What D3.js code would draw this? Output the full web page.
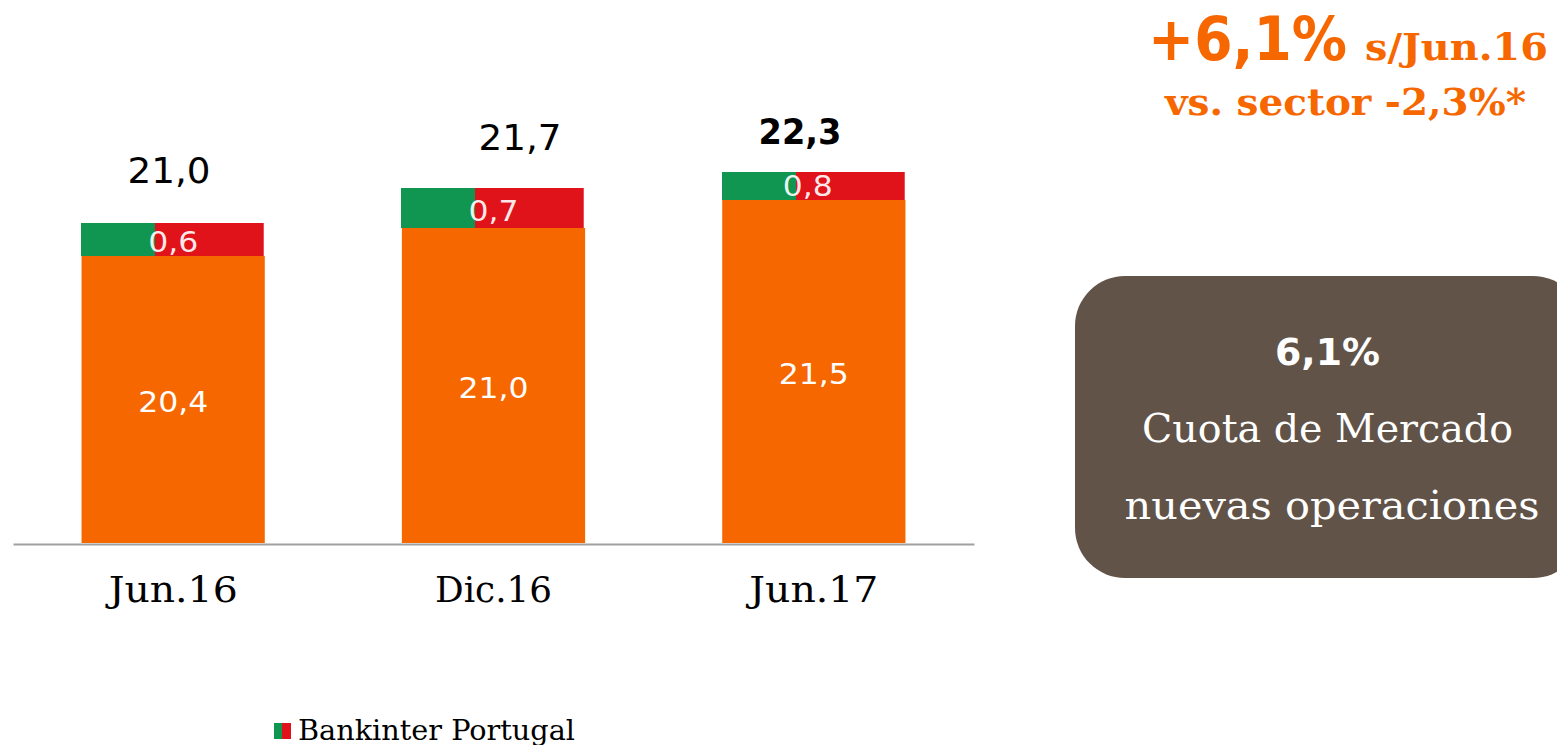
<!DOCTYPE html>
<html><head><meta charset="utf-8">
<script src="https://cdnjs.cloudflare.com/ajax/libs/d3/7.8.5/d3.min.js"></script>
<style>html,body{margin:0;padding:0;background:#fff;overflow:hidden}svg{display:block}</style>
</head><body><div id="c"></div>
<script>
const categories = ["Jun.16","Dic.16","Jun.17"];
// values as labelled in the chart
const spainLabels = ["20,4","21,0","21,5"];
const portugalLabels = ["0,6","0,7","0,8"];
const totalLabels = ["21,0","21,7","22,3"];
const totalWeights = ["normal","normal","bold"];
// heights as drawn in the picture (the source bars are not strictly to scale)
const spainDrawn = [20.40, 20.96, 21.52];
const portugalDrawn = [0.66, 0.80, 0.56];
const barColor = "#f76700", green = "#109651", red = "#e0131b", boxColor = "#615348";
const legendLabel = "Bankinter Portugal";

const SANS = "'DejaVu Sans',sans-serif", SERIF = "'DejaVu Serif',serif";
const svg = d3.select("#c").append("svg").attr("width",1557).attr("height",745);
const x = d3.scaleBand().domain(categories).range([13,974]).paddingInner(0.428).paddingOuter(0.214);
const y = d3.scaleLinear().domain([14.66,22.3]).range([543,161]);
const fit = (sel,w)=>sel.attr("textLength",w).attr("lengthAdjust","spacingAndGlyphs");

const rows = categories.map((c,i)=>({c,i,s:spainDrawn[i],p:portugalDrawn[i]}));
const g = svg.append("g");
const segX = d=>Math.floor(x(d.c));
g.selectAll("rect.g").data(rows).join("rect").attr("x",segX).attr("width",74)
 .attr("y",d=>y(d.s+d.p)).attr("height",d=>y(d.s)-y(d.s+d.p)).attr("fill",green);
g.selectAll("rect.r").data(rows).join("rect").attr("x",d=>segX(d)+74).attr("width",x.bandwidth()-74.5)
 .attr("y",d=>y(d.s+d.p)).attr("height",d=>y(d.s)-y(d.s+d.p)).attr("fill",red);
g.selectAll("rect.o").data(rows).join("rect").attr("x",d=>x(d.c)).attr("width",x.bandwidth())
 .attr("y",d=>y(d.s)).attr("height",d=>y.range()[0]-y(d.s)).attr("fill",barColor);

// axis
const ax = svg.append("g").attr("transform","translate(0,544)").call(d3.axisBottom(x).tickSize(0).tickPadding(29));
ax.select(".domain").attr("stroke","#a0a0a0").attr("stroke-width",2);
ax.selectAll("text").attr("font-family",SERIF).attr("font-size",35).attr("fill","#000").attr("dy",null).attr("y",58)
  .attr("textLength",d=>d==="Dic.16"?117:129).attr("lengthAdjust","spacingAndGlyphs");

const cx = d=>x(d.c)+x.bandwidth()/2;
fit(svg.selectAll("text.s").data(rows).join("text").attr("x",cx).attr("y",d=>(y(d.s)+543)/2+12)
 .attr("text-anchor","middle").attr("font-family",SANS).attr("font-size",29).attr("fill","#fff").text(d=>spainLabels[d.i]),70);
const pDx=[0,0,-6], pDy=[12.5,12.5,10];
fit(svg.selectAll("text.p").data(rows).join("text").attr("x",d=>cx(d)+pDx[d.i]).attr("y",d=>(y(d.s)+y(d.s+d.p))/2+pDy[d.i])
 .attr("text-anchor","middle").attr("font-family",SANS).attr("font-size",29).attr("fill","#fff").attr("fill-opacity",0.92).text(d=>portugalLabels[d.i]),50);
const totalX=[169,520,800], totalY=[183,150,144];
fit(svg.selectAll("text.t").data(rows).join("text").attr("x",d=>totalX[d.i]).attr("y",d=>totalY[d.i])
 .attr("text-anchor","middle").attr("font-family",SANS).attr("font-size",35).attr("font-weight",d=>totalWeights[d.i]).attr("fill","#000").text(d=>totalLabels[d.i]),83);

// callout box (runs off the right edge)
svg.append("rect").attr("x",1075).attr("y",276).attr("width",508).attr("height",302).attr("rx",50).attr("fill",boxColor);
const boxText=[["6,1%",365,"bold",105,SANS],["Cuota de Mercado",442,"normal",371,SERIF],["nuevas operaciones",519,"normal",415,SERIF]];
svg.selectAll("text.b").data(boxText).join("text").attr("x",d=>d[3]===415?1332:1327.5).attr("y",d=>d[1]).attr("text-anchor","middle")
 .attr("font-family",d=>d[4]).attr("font-size",d=>d[3]===105?38:39).attr("font-weight",d=>d[2]).attr("fill","#fff").attr("textLength",d=>d[3]).attr("lengthAdjust","spacingAndGlyphs").text(d=>d[0]);

// headline
const head = (t,px,py,fs,w,ff)=>fit(svg.append("text").attr("x",px).attr("y",py).attr("fill",barColor).attr("font-family",ff).attr("font-weight","bold").attr("font-size",fs).text(t),w);
head("+6,1%",1148,60,61,199,SANS);
head("s/Jun.16",1365,60,38,183,SERIF);
head("vs. sector -2,3%*",1165,115,37,361,SERIF);

// legend
svg.append("rect").attr("x",274).attr("y",723).attr("width",8).attr("height",16).attr("fill",green);
svg.append("rect").attr("x",282).attr("y",723).attr("width",9).attr("height",16).attr("fill",red);
fit(svg.append("text").attr("x",298).attr("y",740).attr("font-family",SERIF).attr("font-size",27).attr("fill","#000").text(legendLabel),277);
</script></body></html>
